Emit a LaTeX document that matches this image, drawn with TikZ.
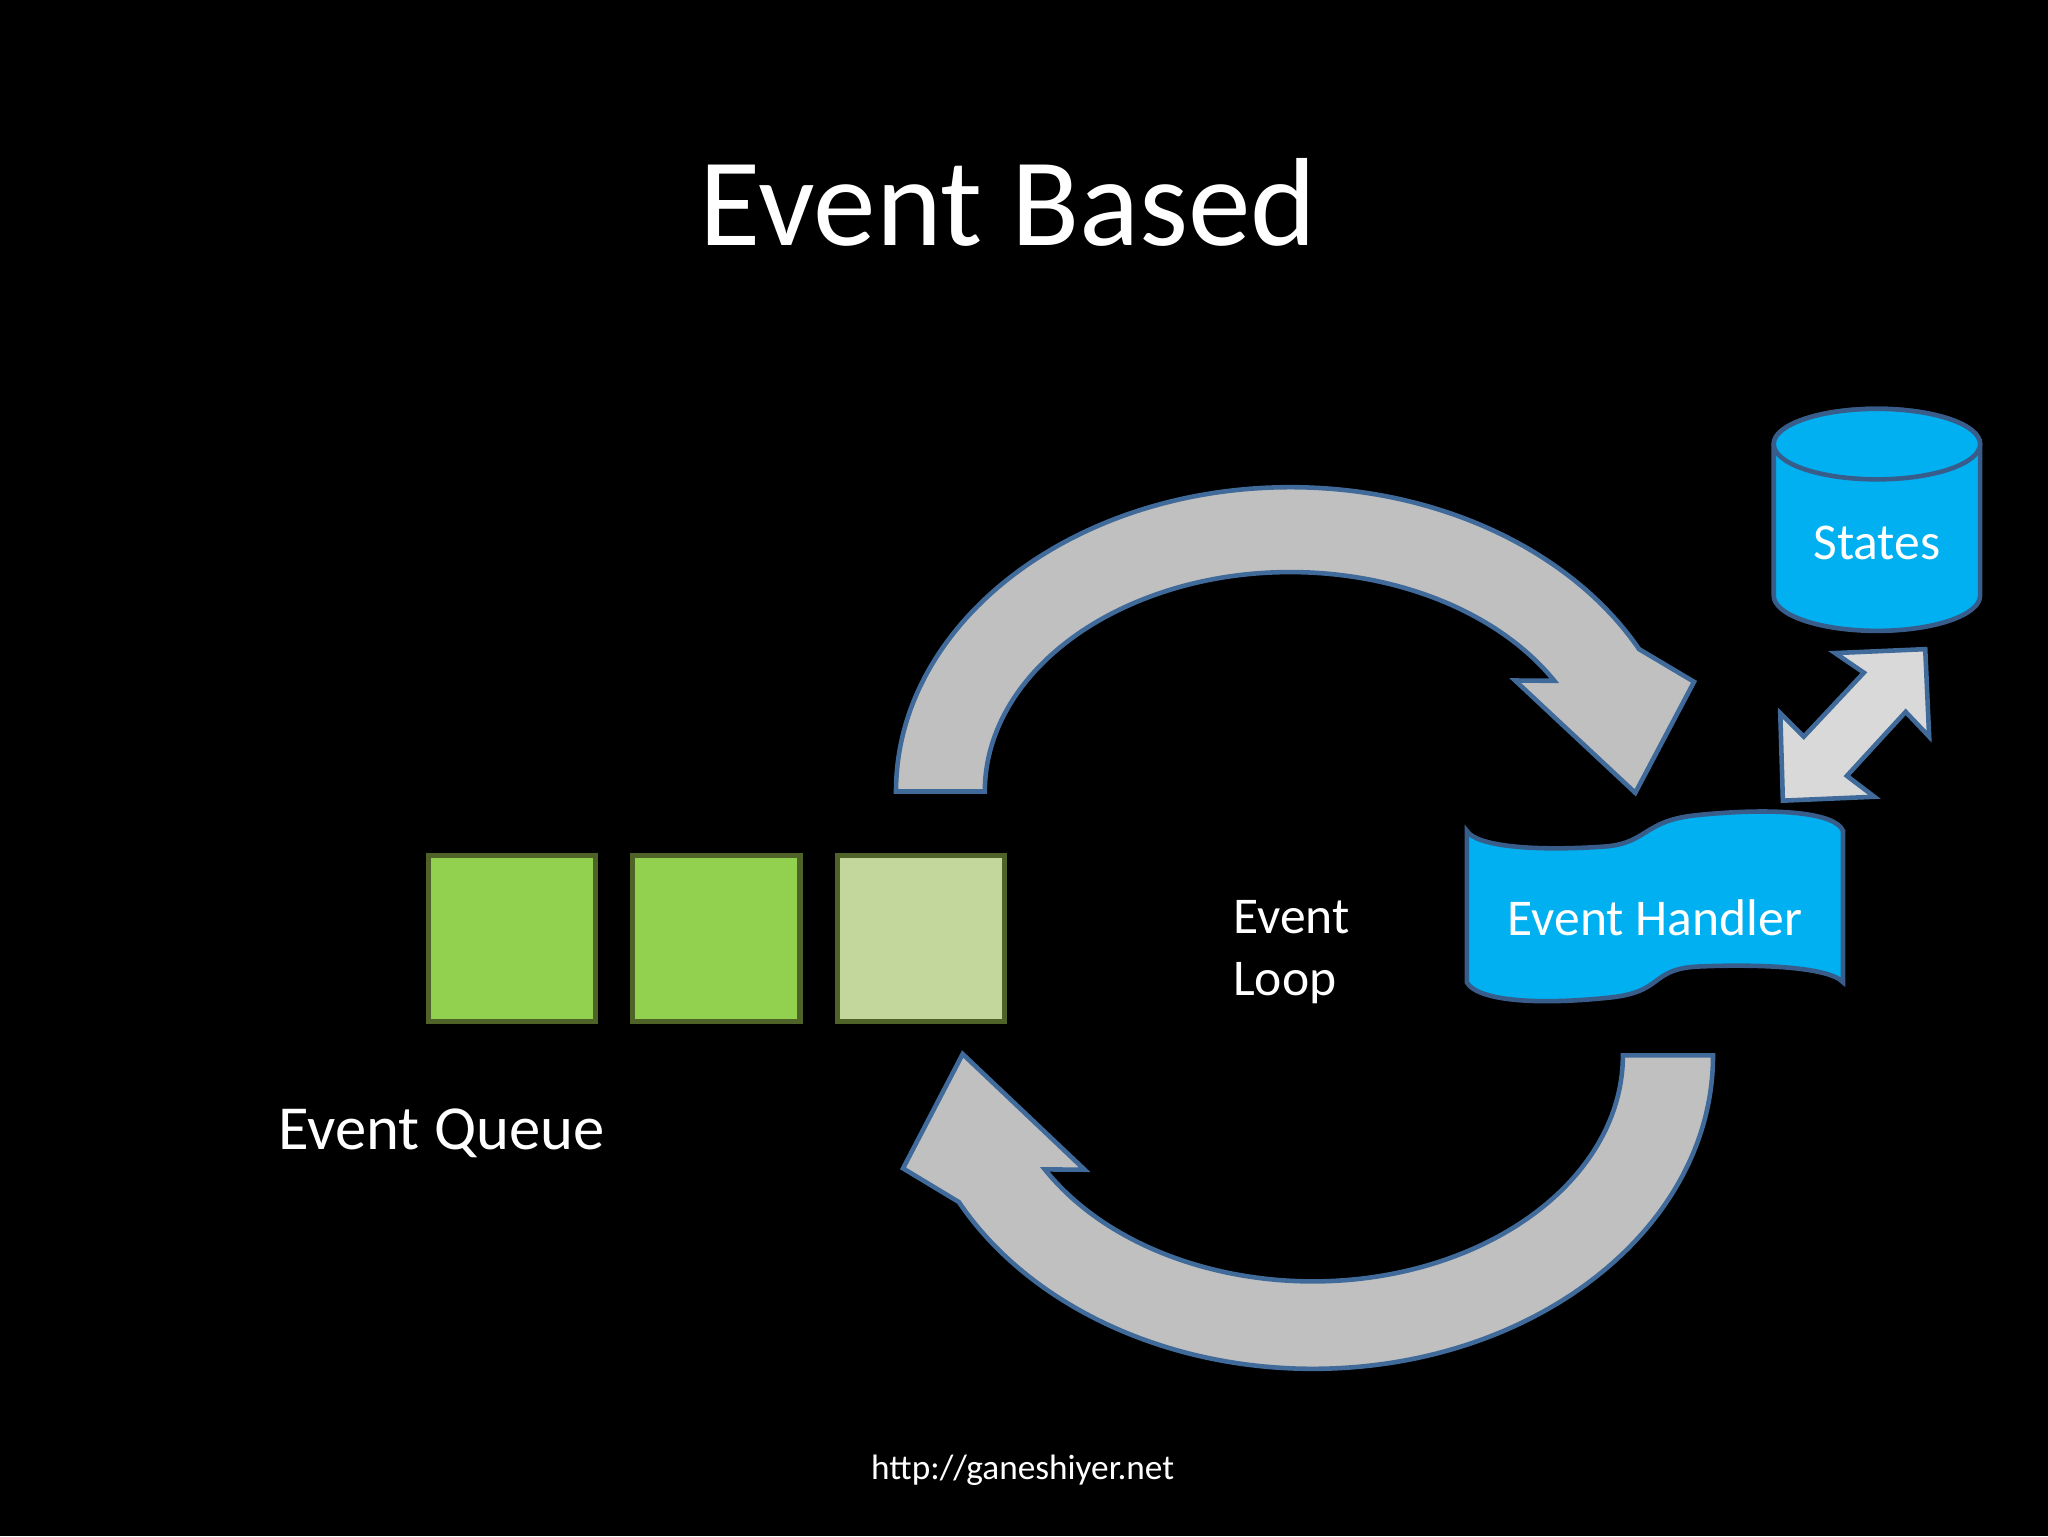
\documentclass[tikz,border=0pt]{standalone}
\usepackage{fontspec}
\setmainfont{Carlito}
\definecolor{qgreen}{HTML}{92D050}
\definecolor{qlight}{HTML}{C3D69B}
\definecolor{qborder}{HTML}{4F6228}
\definecolor{eblue}{HTML}{00B0F0}
\definecolor{eborder}{HTML}{385D8A}
\definecolor{agray}{HTML}{C0C0C0}
\definecolor{alight}{HTML}{D9D9D9}
\definecolor{aborder}{HTML}{3F6A9A}
\tikzset{
  qbox/.style={draw=qborder, line width=4pt, minimum width=128pt, minimum height=127pt, inner sep=0pt},
  blockarrow/.style={fill=agray, draw=aborder, line width=3.5pt, line join=miter},
  bluebody/.style={fill=eblue, draw=eborder, line width=3.5pt},
  lbl/.style={text=white, inner sep=0pt},
}
\newcommand{\looppath}{(-302,0) arc (180:332.1:302 and 233) -- (309,-84) -- (264,1) -- (172,-85) -- (329.7:234 and 168) arc (329.7:180:234 and 168) -- cycle}
\begin{document}
\begin{tikzpicture}[x=1pt,y=-1pt]
\fill[black] (0,0) rectangle (1568,1176);
\useasboundingbox (0,0) rectangle (1568,1176);

% title
\node[lbl, font=\fontsize{96}{100}\selectfont, anchor=base] (title) at (772,188) {Event Based};

% loop arrows
\begin{scope}[shift={(988,606)}]
  \draw[blockarrow] \looppath;
\end{scope}
\begin{scope}[shift={(1005,808)}, rotate=180, xscale=1.015, yscale=1.03]
  \draw[blockarrow] \looppath;
\end{scope}

% queue boxes
\node[qbox, fill=qgreen] (q1) at (392,718.5) {};
\node[qbox, fill=qgreen] (q2) at (548.5,718.5) {};
\node[qbox, fill=qlight] (q3) at (705,718.5) {};
\node[lbl, font=\fontsize{48}{60}\selectfont, anchor=base west] (queue) at (213,880) {Event Queue};

% event loop label
\node[lbl, font=\fontsize{39.5}{47}\selectfont, anchor=base west, align=left] (loop) at (944,762) {Event\\Loop};

% states cylinder
\draw[bluebody] (1358,340) -- (1358,456) arc (180:0:79 and 27) -- (1516,340) arc (0:-180:79 and 27) -- cycle;
\draw[bluebody] (1437,340) ellipse (79 and 27);
\node[lbl, font=\fontsize{39.5}{50}\selectfont, anchor=base] (states) at (1437,428) {States};

% double arrow
\draw[blockarrow, fill=alight] (1474,497) -- (1477,564) -- (1459,545) -- (1414,594) -- (1435,610) -- (1365,613) -- (1363,546) -- (1381,564) -- (1427,515) -- (1405,500) -- cycle;

% event handler wave
\draw[bluebody] (1123,636) .. controls (1130,648) and (1175,652) .. (1230,648)
  .. controls (1262,645) and (1258,628) .. (1300,624)
  .. controls (1360,618) and (1405,622) .. (1411,636)
  -- (1411,752)
  .. controls (1400,740) and (1345,738) .. (1300,740)
  .. controls (1262,742) and (1275,760) .. (1230,764)
  .. controls (1170,770) and (1130,765) .. (1123,752) -- cycle;
\node[lbl, font=\fontsize{39.5}{50}\selectfont, anchor=base] (handler) at (1267,716) {Event Handler};

% footer
\node[lbl, font=\fontsize{27}{30}\selectfont, anchor=base] (footer) at (783,1133) {http://ganeshiyer.net};
\end{tikzpicture}
\end{document}
